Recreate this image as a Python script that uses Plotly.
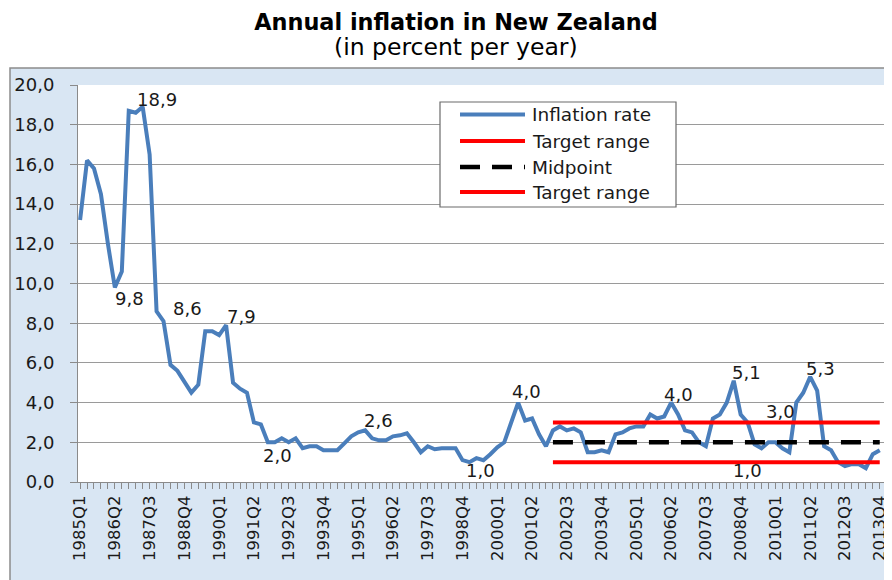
import plotly.graph_objects as go

# ---------------- data ----------------
years = list(range(1985, 2014))
quarter_names = ["Q1", "Q2", "Q3", "Q4"]
period_labels = [f"{y}{q}" for y in years for q in quarter_names]

inflation_rate = [
    13.2, 16.2, 15.8, 14.5, 12.0, 9.8, 10.6, 18.7, 18.6, 18.9, 16.5, 8.6,
    8.1, 5.9, 5.6, 5.0, 4.5, 4.9, 7.6, 7.6, 7.4, 7.9, 5.0, 4.7,
    4.5, 3.0, 2.9, 2.0, 2.0, 2.2, 2.0, 2.2, 1.7, 1.8, 1.8, 1.6,
    1.6, 1.6, 1.95, 2.3, 2.5, 2.6, 2.2, 2.1, 2.1, 2.3, 2.35, 2.45,
    2.0, 1.5, 1.8, 1.65, 1.7, 1.7, 1.7, 1.1, 1.0, 1.2, 1.1, 1.4,
    1.75, 2.0, 3.0, 4.0, 3.1, 3.2, 2.4, 1.8, 2.6, 2.8, 2.6, 2.7,
    2.5, 1.5, 1.5, 1.6, 1.5, 2.4, 2.5, 2.7, 2.8, 2.8, 3.4, 3.2,
    3.3, 4.0, 3.4, 2.6, 2.5, 2.0, 1.8, 3.2, 3.4, 4.0, 5.1, 3.4,
    3.0, 1.9, 1.7, 2.0, 2.0, 1.7, 1.5, 4.0, 4.5, 5.3, 4.6, 1.8,
    1.6, 1.0, 0.8, 0.9, 0.9, 0.7, 1.4, 1.6,
]

target_start_period = "2002Q1"
target_low = 1.0
target_mid = 2.0
target_high = 3.0

series_names = ["Inflation rate", "Target range", "Midpoint", "Target range"]

# data labels: (period, text source)
labelled_periods = ["1987Q2", "1986Q2", "1987Q4", "1990Q2", "1991Q4", "1995Q2",
                    "1999Q1", "2000Q4", "2006Q2", "2008Q3", "2009Q1", "2011Q2"]
label_offsets = [(14, 7), (15, -11), (31, 3), (15, 9), (10, -13), (13, 10),
                 (11, -8), (8, 11), (7, 8), (13, 8), (33, 11), (10, 8)]
low_label_period = "2008Q4"
low_label_offset = (7, -8)

tick_step = 5

# ---------------- figure ----------------
x_idx = list(range(len(period_labels)))
t0 = period_labels.index(target_start_period)
tx = x_idx[t0:]

BLUE = "#4a7ebb"
RED = "#ff0000"
FONT = "DejaVu Sans"
TXT = "#1a1a1a"

fig = go.Figure()
fig.add_trace(go.Scatter(x=x_idx, y=inflation_rate, mode="lines", name=series_names[0],
                         line=dict(color=BLUE, width=4)))
fig.add_trace(go.Scatter(x=tx, y=[target_high] * len(tx), mode="lines", name=series_names[1],
                         line=dict(color=RED, width=4)))
fig.add_trace(go.Scatter(x=tx, y=[target_mid] * len(tx), mode="lines", name=series_names[2],
                         line=dict(color="black", width=4.5, dash="20px,12px")))
fig.add_trace(go.Scatter(x=tx, y=[target_low] * len(tx), mode="lines", name=series_names[3],
                         line=dict(color=RED, width=4)))

# page body has an 8px margin: build the figure 8px smaller and shifted
OFF = 8
W, H = 892 - OFF, 580 - OFF
# plot-area frame in screen pixels
L, R, T, B = 78, 886, 85, 482


def px(x):
    return (x - L) / (R - L)


def py(y):
    return (B - y) / (B - T)


shapes = [
    # chart area (light blue) and plot area (white)
    dict(type="rect", xref="paper", yref="paper", x0=px(10), x1=px(905), y0=py(600), y1=py(68),
         fillcolor="#d9e6f3", line=dict(color="#8c8c8c", width=1.5), layer="below"),
    dict(type="rect", xref="paper", yref="paper", x0=0, x1=1, y0=0, y1=1,
         fillcolor="white", line=dict(width=0), layer="below"),
]

annotations = []
for (p, (dx, dy)) in zip(labelled_periods, label_offsets):
    i = period_labels.index(p)
    v = inflation_rate[i]
    annotations.append(dict(x=i, y=v, xref="x", yref="y", text=f"{v:.1f}".replace(".", ","),
                            showarrow=False, xshift=dx, yshift=dy,
                            xanchor="center", yanchor="middle",
                            font=dict(family=FONT, size=18, color=TXT)))
i = period_labels.index(low_label_period)
annotations.append(dict(x=i, y=target_low, xref="x", yref="y",
                        text=f"{target_low:.1f}".replace(".", ","), showarrow=False,
                        xshift=low_label_offset[0], yshift=low_label_offset[1],
                        xanchor="center", yanchor="middle",
                        font=dict(family=FONT, size=18, color=TXT)))

# subtitle
annotations.append(dict(x=px(456), y=py(47), xref="paper", yref="paper",
                        text="(in percent per year)", showarrow=False,
                        xanchor="center", yanchor="middle",
                        font=dict(family=FONT, size=23.5, color="black")))

# custom legend
lg_x0, lg_x1, lg_y0, lg_y1 = 440, 676, 102, 207
shapes.append(dict(type="rect", xref="paper", yref="paper", x0=px(lg_x0), x1=px(lg_x1),
                   y0=py(lg_y1), y1=py(lg_y0), fillcolor="white",
                   line=dict(color="#6b6b6b", width=1.2), layer="above"))
row_y = [114.5, 141, 167, 192]
styles = [dict(color=BLUE, width=4), dict(color=RED, width=4),
          dict(color="black", width=4.5, dash="20px,12px"), dict(color=RED, width=4)]
for name, yy, st in zip(series_names, row_y, styles):
    shapes.append(dict(type="line", xref="paper", yref="paper", x0=px(460), x1=px(525),
                       y0=py(yy), y1=py(yy), line=st, layer="above"))
    annotations.append(dict(x=px(530), y=py(yy), xref="paper", yref="paper", text=name,
                            showarrow=False, xanchor="left", yanchor="middle",
                            font=dict(family=FONT, size=18.5, color=TXT)))

fig.update_layout(
    width=W, height=H,
    margin=dict(l=L - OFF, r=W - (R - OFF), t=T - OFF, b=H - (B - OFF), autoexpand=False),
    paper_bgcolor="white", plot_bgcolor="rgba(0,0,0,0)",
    separators=", ",
    showlegend=False,
    title=dict(text="<b>Annual inflation in New Zealand</b>", x=(456 - OFF) / W,
               xanchor="center", y=1 - (22 - OFF) / H, yanchor="middle",
               xref="container", yref="container",
               font=dict(family=FONT, size=22.4, color="black")),
    shapes=shapes,
    annotations=annotations,
)

fig.update_xaxes(
    range=[-0.3, len(x_idx) - 1 + 0.9],
    tickmode="array", tickvals=x_idx[::tick_step], ticktext=period_labels[::tick_step],
    tickangle=-90, ticks="outside", ticklen=6, tickcolor="#8a8a8a",
    minor=dict(ticks="outside", ticklen=6, dtick=1, tick0=0, tickcolor="#8a8a8a", showgrid=False),
    showline=True, linecolor="#8a8a8a", linewidth=1, showgrid=False, zeroline=False,
    tickfont=dict(family=FONT, size=16.5, color=TXT),
)
fig.update_yaxes(
    range=[0, 20], dtick=2, tickformat=".1f",
    ticks="outside", ticklen=7, tickcolor="#8a8a8a", ticklabelstandoff=12,
    showline=True, linecolor="#8a8a8a", linewidth=1,
    showgrid=True, gridcolor="#9a9a9a", gridwidth=1, zeroline=False,
    tickfont=dict(family=FONT, size=18, color=TXT),
)

fig.write_html("out.html")
